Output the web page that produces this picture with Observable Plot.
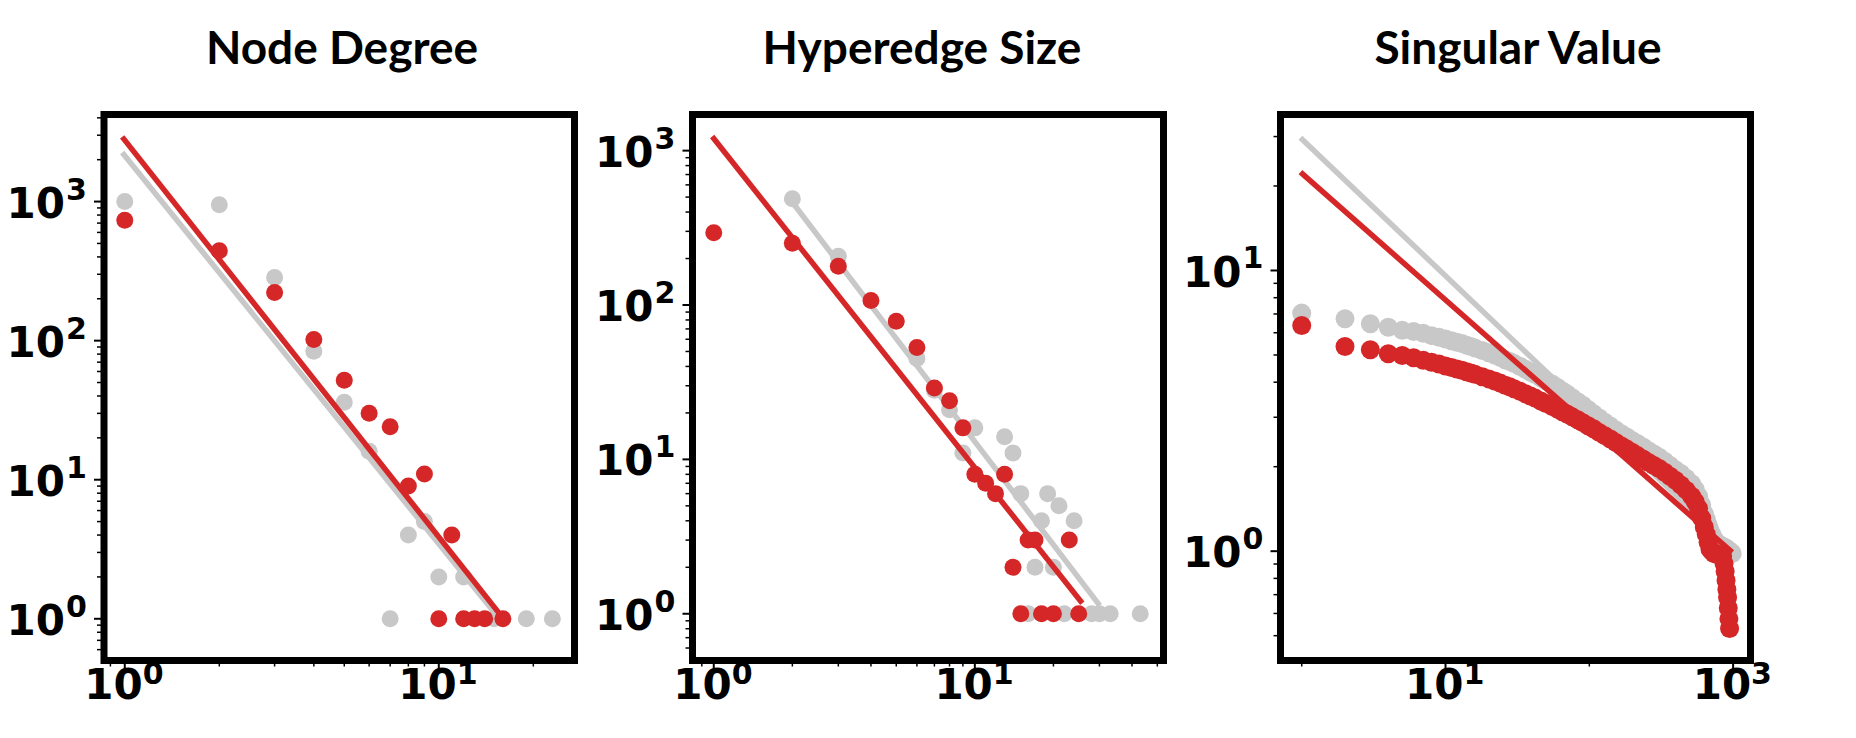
<!DOCTYPE html>
<html>
<head>
<meta charset="utf-8">
<script src="https://cdn.jsdelivr.net/npm/d3@7"></script>
<script src="https://cdn.jsdelivr.net/npm/@observablehq/plot@0.6"></script>
<style>
html, body { margin: 0; padding: 0; background: #fff; overflow: hidden; }
#wrap { position: relative; width: 1856px; height: 738px; }
#wrap svg { position: absolute; left: 0; top: 0; }
</style>
</head>
<body>
<div id="wrap"></div>
<script>
// ---------- titles ----------
const titles = ["Node Degree", "Hyperedge Size", "Singular Value"];

// ---------- Node Degree ----------
const ndGrayX = [1, 2, 3, 4, 5, 6, 7, 8, 9, 10, 12, 15, 19, 23];
const ndGrayY = [1000, 947, 284, 84, 36, 16, 1, 4, 5, 2, 2, 1, 1, 1];
const ndRedX = [1, 2, 3, 4, 5, 6, 7, 8, 9, 11, 10, 12, 13, 14, 16];
const ndRedY = [735, 443, 222, 102, 52, 30, 24, 9, 11, 4, 1, 1, 1, 1, 1];
const ndGrayFitX = [0.981, 15.3];
const ndGrayFitY = [2250, 1.056];
const ndRedFitX = [0.981, 15.6];
const ndRedFitY = [2917, 1.09];

// ---------- Hyperedge Size ----------
const heGrayX = [2, 3, 6, 7, 8, 9, 10, 13, 14, 15, 17, 18, 19, 20, 21, 24, 16, 22, 28, 30, 33, 43];
const heGrayY = [487, 207, 45, 28, 21, 11, 16, 14, 11, 6, 2, 4, 6, 2, 5, 4, 1, 1, 1, 1, 1, 1];
const heRedX = [1, 2, 3, 4, 5, 6, 7, 8, 9, 10, 11, 12, 13, 14, 16, 17, 23, 15, 18, 20, 25];
const heRedY = [294, 251, 178, 107, 78.5, 53, 29, 24, 16, 8, 7, 6, 8, 2, 3, 3, 3, 1, 1, 1, 1];
const heGrayFitX = [2, 30.1];
const heGrayFitY = [463, 1.13];
const heRedFitX = [0.986, 25.8];
const heRedFitY = [1234, 1.17];

// ---------- Singular Value ----------
const svRedRank = [1,2,3,4,5,6,7,8,9,10,11,12,13,14,15,16,18,20,22,24,26,28,30,33,36,39,42,46,50,55,60,65,70,76,83,90,98,107,117,128,140,153,167,182,198,216,236,258,281,306,334,364,397,433,472,515,545,575,605,630,650,670,690,710,735,760,790,820,845,865,880,893,905,915,925,935,945];
const svRedValue = [6.37,5.36,5.22,5.05,4.98,4.89,4.79,4.71,4.64,4.57,4.51,4.46,4.41,4.36,4.31,4.27,4.18,4.11,4.04,3.97,3.90,3.85,3.79,3.71,3.64,3.57,3.51,3.43,3.36,3.28,3.21,3.14,3.08,3.01,2.94,2.87,2.80,2.73,2.65,2.58,2.51,2.44,2.37,2.31,2.25,2.19,2.13,2.07,2.02,1.97,1.91,1.85,1.79,1.72,1.65,1.57,1.50,1.42,1.31,1.22,1.15,1.075,1.018,1.0,0.981,0.977,0.973,0.964,0.957,0.903,0.846,0.787,0.731,0.684,0.627,0.574,0.53];
const svGrayRank = [1,2,3,4,5,6,7,8,9,10,11,12,13,14,15,16,18,20,22,24,26,28,30,33,36,39,42,46,50,55,60,65,70,76,83,90,98,107,117,128,140,153,167,182,198,216,236,258,281,306,334,364,397,433,472,515,545,575,605,630,650,670,690,710,735,760,790,820,845,865,880,893,905,915,925,935,945,960,975,985];
const svGrayValue = [7.05,6.73,6.46,6.28,6.12,6.06,5.97,5.86,5.78,5.70,5.62,5.55,5.49,5.42,5.36,5.30,5.19,5.09,5.00,4.91,4.81,4.74,4.66,4.55,4.45,4.35,4.26,4.15,4.05,3.94,3.83,3.72,3.63,3.52,3.41,3.31,3.20,3.09,2.98,2.88,2.79,2.70,2.62,2.55,2.48,2.42,2.35,2.28,2.22,2.16,2.09,2.02,1.95,1.89,1.82,1.74,1.66,1.57,1.46,1.36,1.30,1.24,1.19,1.15,1.11,1.08,1.06,1.05,1.04,1.03,1.03,1.02,1.02,1.01,1.01,1.0,1.0,0.99,0.99,0.98];
const svGrayFitX = [0.98, 986];
const svGrayFitY = [29.7, 1.02];
const svRedFitX = [0.98, 986];
const svRedFitY = [22.4, 0.99];

// ---------- tick exponents ----------
const ndXExp = [0, 1], ndYExp = [0, 1, 2, 3];
const heXExp = [0, 1], heYExp = [0, 1, 2, 3];
const svXExp = [1, 3], svYExp = [0, 1];
const ndXMinor = [0.9, 2, 3, 4, 5, 6, 7, 8, 9, 20];
const ndYMinor = [0.6, 0.7, 0.8, 0.9, 2, 3, 4, 5, 6, 7, 8, 9, 20, 30, 40, 50, 60, 70, 80, 90, 200, 300, 400, 500, 600, 700, 800, 900, 2000, 3000, 4000];
const heXMinor = [0.9, 2, 3, 4, 5, 6, 7, 8, 9, 20, 30, 40, 50];
const heYMinor = [0.6, 0.7, 0.8, 0.9, 2, 3, 4, 5, 6, 7, 8, 9, 20, 30, 40, 50, 60, 70, 80, 90, 200, 300, 400, 500, 600, 700, 800, 900];
const svXMinor = [1, 100];
const svYMinor = [0.5, 0.6, 0.7, 0.8, 0.9, 2, 3, 4, 5, 6, 7, 8, 9, 20, 30];

const GRAY = "#c8c8c8";
const RED = "#d62728";
const FONT = "DejaVu Sans";
const W = 1856, H = 738, TOP = 114, BOTTOM = 660;

const panels = [
  {title: titles[0], titleX: 342, left: 103.5, right: 574, r: 8.5, xDomain: [0.8587, 27.05], yDomain: [0.5013, 4227],
   grayX: ndGrayX, grayY: ndGrayY, redX: ndRedX, redY: ndRedY,
   grayFitX: ndGrayFitX, grayFitY: ndGrayFitY, redFitX: ndRedFitX, redFitY: ndRedFitY,
   xExp: ndXExp, yExp: ndYExp, xMinor: ndXMinor, yMinor: ndYMinor},
  {title: titles[1], titleX: 922, left: 692, right: 1163, r: 8.5, xDomain: [0.829, 52.8], yDomain: [0.498, 1714],
   grayX: heGrayX, grayY: heGrayY, redX: heRedX, redY: heRedY,
   grayFitX: heGrayFitX, grayFitY: heGrayFitY, redFitX: heRedFitX, redFitY: heRedFitY,
   xExp: heXExp, yExp: heYExp, xMinor: heXMinor, yMinor: heYMinor},
  {title: titles[2], titleX: 1518, left: 1280, right: 1750, r: 9.5, xDomain: [0.712, 1321], yDomain: [0.4079, 35.95],
   grayX: svGrayRank, grayY: svGrayValue, redX: svRedRank, redY: svRedValue,
   grayFitX: svGrayFitX, grayFitY: svGrayFitY, redFitX: svRedFitX, redFitY: svRedFitY,
   xExp: svXExp, yExp: svYExp, xMinor: svXMinor, yMinor: svYMinor}
];

const wrap = document.getElementById("wrap");

// titles as real svg text
const tsvg = d3.create("svg").attr("width", W).attr("height", H);
for (const p of panels) {
  tsvg.append("text")
    .attr("x", p.titleX).attr("y", 64)
    .attr("text-anchor", "middle")
    .attr("font-family", "Lato, 'Open Sans', sans-serif")
    .attr("font-weight", "bold")
    .attr("font-size", 46)
    .attr("fill", "black")
    .text(p.title);
}
wrap.appendChild(tsvg.node());

function panel(p) {
  const txt = {fontFamily: FONT, fontWeight: "bold", fill: "black"};
  return Plot.plot({
    width: W, height: H,
    marginLeft: p.left, marginRight: W - p.right, marginTop: TOP, marginBottom: H - BOTTOM,
    style: {background: "transparent", overflow: "visible", maxWidth: "none"},
    x: {type: "log", domain: p.xDomain},
    y: {type: "log", domain: p.yDomain},
    marks: [
      Plot.axisX(p.xMinor, {anchor: "bottom", tickSize: 6.5, strokeWidth: 1.5, tickFormat: () => "", label: null}),
      Plot.axisX(p.xExp.map(e => 10 ** e), {anchor: "bottom", tickSize: 9.5, strokeWidth: 2, tickFormat: () => "", label: null}),
      Plot.axisY(p.yMinor, {anchor: "left", tickSize: 6.5, strokeWidth: 1.5, tickFormat: () => "", label: null}),
      Plot.axisY(p.yExp.map(e => 10 ** e), {anchor: "left", tickSize: 9.5, strokeWidth: 2, tickFormat: () => "", label: null}),
      Plot.dot(p.grayY, {x: p.grayX, y: p.grayY, r: p.r, fill: GRAY}),
      Plot.line(p.grayFitY, {x: p.grayFitX, y: p.grayFitY, stroke: GRAY, strokeWidth: 5.5, strokeLinecap: "butt"}),
      Plot.dot(p.redY, {x: p.redX, y: p.redY, r: p.r, fill: RED}),
      Plot.line(p.redFitY, {x: p.redFitX, y: p.redFitY, stroke: RED, strokeWidth: 5.5, strokeLinecap: "butt"}),
      Plot.frame({stroke: "black", strokeWidth: 7}),
      Plot.text(p.xExp, {x: e => 10 ** e, frameAnchor: "bottom", text: () => "10", textAnchor: "end", dx: 18, dy: 38, fontSize: 42, ...txt}),
      Plot.text(p.xExp, {x: e => 10 ** e, frameAnchor: "bottom", text: e => String(e), textAnchor: "start", dx: 18, dy: 23.5, fontSize: 30, ...txt}),
      Plot.text(p.yExp, {y: e => 10 ** e, frameAnchor: "left", text: () => "10", textAnchor: "end", dx: -39, dy: 2.6, fontSize: 42, ...txt}),
      Plot.text(p.yExp, {y: e => 10 ** e, frameAnchor: "left", text: e => String(e), textAnchor: "start", dx: -38, dy: -11.6, fontSize: 30, ...txt})
    ]
  });
}

for (const p of panels) wrap.appendChild(panel(p));
</script>
</body>
</html>
